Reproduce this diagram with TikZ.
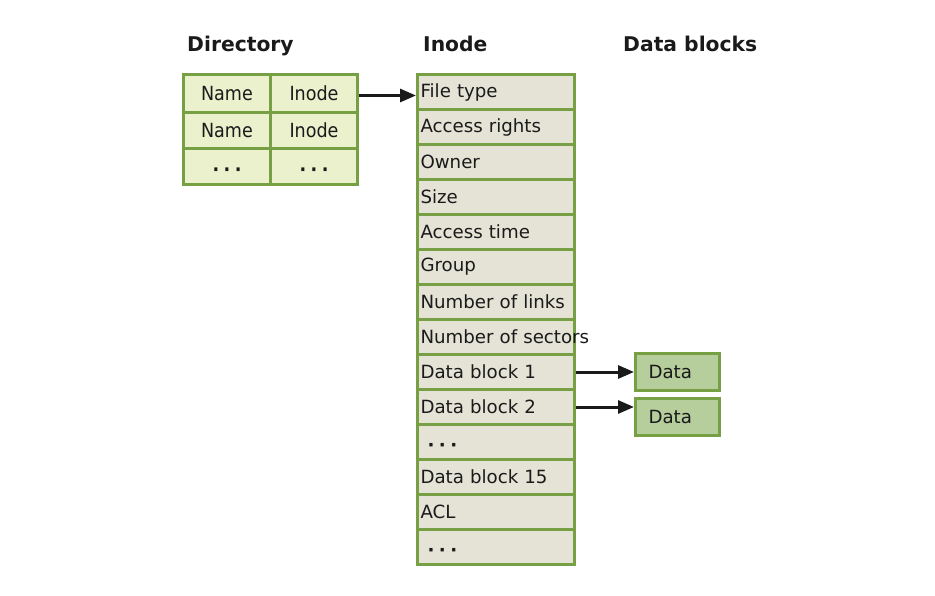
\documentclass[tikz,border=0pt]{standalone}
\usepackage{fontspec}
\setmainfont{DejaVu Sans}
\newfontfamily\condfont{DejaVu Sans Condensed}
\usetikzlibrary{arrows.meta, positioning, calc}

\definecolor{cellline}{HTML}{76A043}
\definecolor{dirfill}{HTML}{EBF1CD}
\definecolor{inofill}{HTML}{E4E3D6}
\definecolor{datafill}{HTML}{B6CD9C}
\definecolor{ink}{HTML}{1A1A1A}

\newcommand{\tridots}{\vphantom{Ay}\raisebox{-6pt}{\bfseries
  {\textperiodcentered}\hspace{4.5pt}{\textperiodcentered}\hspace{4.5pt}{\textperiodcentered}}}

\begin{document}
\begin{tikzpicture}[
    x=1pt, y=-1pt,
    >=Stealth,
    head/.style={anchor=base west, inner sep=0pt, font=\fontsize{20.3}{24}\selectfont\bfseries, text=ink},
    dircell/.style={
        rectangle, draw=cellline, line width=3pt, fill=dirfill, anchor=north west,
        minimum width=87pt, minimum height=36pt, inner sep=0pt,
        font=\condfont\fontsize{19.5}{22}\selectfont, text=ink
    },
    inocell/.style={
        rectangle, draw=cellline, line width=3pt, fill=inofill, anchor=north west,
        text width=151pt, inner xsep=3pt, minimum height=35pt, align=left,
        font=\fontsize{18.2}{21}\selectfont, text=ink
    },
    datacell/.style={
        rectangle, draw=cellline, line width=3pt, fill=datafill, anchor=north west,
        text width=58pt, inner xsep=13pt, minimum height=37pt, align=left,
        font=\fontsize{18.2}{21}\selectfont, text=ink
    },
    arr/.style={draw=ink, line width=3pt, -{Triangle[length=16pt, width=13pt]}},
]
\useasboundingbox (0,0) rectangle (935,596);

% ================================================================
%  HEADERS
% ================================================================
\node[head] (dirhead)  at (187, 52) {Directory};
\node[head] (inohead)  at (423, 52) {Inode};
\node[head] (datahead) at (623, 52) {Data blocks};

% ================================================================
%  LEFT: DIRECTORY TABLE
% ================================================================
\node[dircell, minimum height=38pt] (name1) at (182, 73)  {Name};
\node[dircell, minimum height=38pt] (ino1)  at (269, 73)  {Inode};
\node[dircell] (name2) at (182, 111) {Name};
\node[dircell] (ino2)  at (269, 111) {Inode};
\node[dircell] (ndots) at (182, 147) {\tridots};
\node[dircell] (idots) at (269, 147) {\tridots};

% ================================================================
%  MIDDLE: INODE
% ================================================================
\node[inocell] (ftype)  at (416, 73)  {File type};
\node[inocell] (rights) at (416, 108) {Access rights};
\node[inocell] (owner)  at (416, 143) {Owner};
\node[inocell] (fsize)  at (416, 178) {Size};
\node[inocell] (atime)  at (416, 213) {Access time};
\node[inocell] (group)  at (416, 248) {Group};
\node[inocell] (nlinks) at (416, 283) {Number of links};
\node[inocell] (nsect)  at (416, 318) {\mbox{Number of sectors}};
\node[inocell] (dblk1)  at (416, 353) {Data block 1};
\node[inocell] (dblk2)  at (416, 388) {Data block 2};
\node[inocell] (dots1)  at (416, 423) {\hspace{7pt}\tridots};
\node[inocell] (dblk15) at (416, 458) {Data block 15};
\node[inocell] (acl)    at (416, 493) {ACL};
\node[inocell] (dots2)  at (416, 528) {\hspace{7pt}\tridots};

% ================================================================
%  RIGHT: DATA BLOCKS
% ================================================================
\node[datacell] (data1) at (634, 352) {Data};
\node[datacell] (data2) at (634, 397) {Data};

% --- pointers ---
\draw[arr] ([yshift=-2pt]ino1.east) -- ([yshift=-2pt]ino1.east -| ftype.west);
\draw[arr] (dblk1.east) -- (dblk1.east -| data1.west);
\draw[arr] (dblk2.east) -- (dblk2.east -| data2.west);

\end{tikzpicture}
\end{document}
